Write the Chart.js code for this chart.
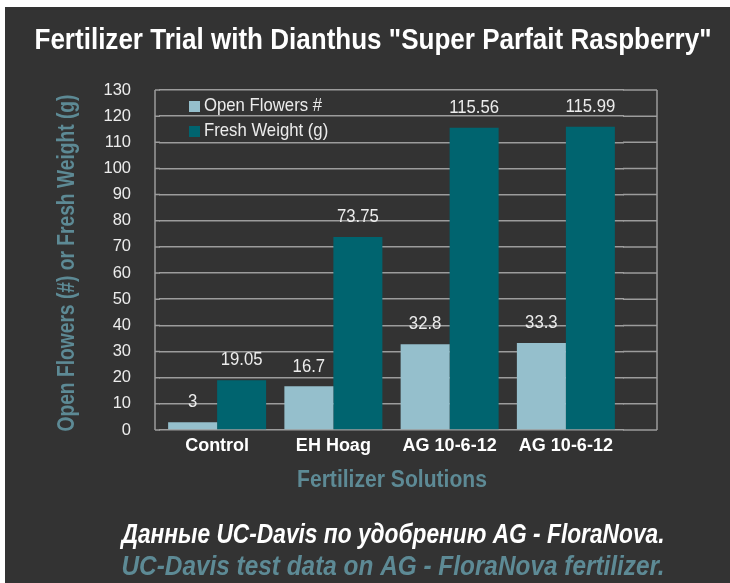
<!DOCTYPE html>
<html>
<head>
<meta charset="utf-8">
<script src="https://cdn.jsdelivr.net/npm/chart.js@4.4.1/dist/chart.umd.min.js"></script>
<style>
  html, body { margin: 0; padding: 0; background: #fff; }
</style>
</head>
<body>
<canvas id="barChart" width="730" height="583"></canvas>
<script>
// data
const categories = ['Control', 'EH Hoag', 'AG 10-6-12', 'AG 10-6-12'];
const openFlowers = [3, 16.7, 32.8, 33.3];
const freshWeight = [19.05, 73.75, 115.56, 115.99];
const seriesNames = ['Open Flowers #', 'Fresh Weight (g)'];
const yMax = 130;
const yStep = 10;

const BG = '#333333';
const GRID = '#9c9c9c';
const LIGHT = '#95bfcc';
const DARK = '#00646f';
const TEAL_TEXT = '#5d8a95';
const TXT = '#ececec';
const SANS = '"Liberation Sans", Arial, sans-serif';
const SQUEEZE = 0.88; // original uses a narrow face
// the frame is a little wider than the category band, like the original
const FRAME_LEFT = 155;
const FRAME_RIGHT = 657;

// draw a text squeezed/stretched to a given width
function fitText(ctx, text, cx, cy, width, font, color, angle) {
    ctx.save();
    ctx.font = font;
    ctx.fillStyle = color;
    ctx.textAlign = 'center';
    ctx.textBaseline = 'middle';
    const w = ctx.measureText(text).width;
    ctx.translate(cx, cy);
    if (angle) ctx.rotate(angle);
    ctx.scale(width / w, 1);
    ctx.fillText(text, 0, 0);
    ctx.restore();
}

// same, but with a fixed horizontal squeeze
function narrowText(ctx, text, x, y, align) {
    ctx.save();
    ctx.textAlign = align;
    ctx.textBaseline = 'middle';
    ctx.translate(x, y);
    ctx.scale(SQUEEZE, 1);
    ctx.fillText(text, 0, 0);
    ctx.restore();
}

const decor = {
    id: 'decor',
    beforeDraw(chart) {
        const ctx = chart.ctx;
        ctx.save();
        ctx.fillStyle = '#ffffff';
        ctx.fillRect(0, 0, chart.width, chart.height);
        ctx.fillStyle = BG;
        ctx.fillRect(5, 7, chart.width - 5, chart.height - 7);
        ctx.restore();
    },
    beforeDatasetsDraw(chart) {
        // stretch the grid out to the frame on both sides
        const ctx = chart.ctx;
        const a = chart.chartArea;
        const y = chart.scales.y;
        ctx.save();
        ctx.strokeStyle = GRID;
        ctx.lineWidth = 1.5;
        ctx.beginPath();
        y.ticks.forEach(t => {
            const py = y.getPixelForValue(t.value);
            ctx.moveTo(FRAME_LEFT, py);
            ctx.lineTo(a.left + 1, py);
            ctx.moveTo(a.right - 1, py);
            ctx.lineTo(FRAME_RIGHT, py);
        });
        ctx.moveTo(FRAME_LEFT, a.top);
        ctx.lineTo(FRAME_LEFT, a.bottom);
        ctx.moveTo(FRAME_RIGHT, a.top);
        ctx.lineTo(FRAME_RIGHT, a.bottom);
        ctx.stroke();
        ctx.restore();
    },
    afterDraw(chart) {
        const ctx = chart.ctx;

        // value labels
        ctx.save();
        ctx.font = '19px ' + SANS;
        ctx.fillStyle = TXT;
        chart.data.datasets.forEach((ds, i) => {
            chart.getDatasetMeta(i).data.forEach((bar, j) => {
                narrowText(ctx, String(ds.data[j]), bar.x, bar.y - 20, 'center');
            });
        });
        ctx.restore();

        // legend inside the plot
        ctx.save();
        ctx.font = '19px ' + SANS;
        chart.data.datasets.forEach((ds, i) => {
            const y = 106 + i * 25;
            ctx.fillStyle = ds.backgroundColor;
            ctx.fillRect(189, y - 5, 11, 11);
            ctx.fillStyle = TXT;
            narrowText(ctx, ds.label, 204, y, 'left');
        });
        ctx.restore();

        // titles
        fitText(ctx, 'Fertilizer Trial with Dianthus "Super Parfait Raspberry"', 373, 41, 677,
            'bold 29px ' + SANS, '#ffffff');
        fitText(ctx, 'Open Flowers (#) or Fresh Weight (g)', 68, 263, 337,
            'bold 23px ' + SANS, TEAL_TEXT, -Math.PI / 2);
        fitText(ctx, 'Fertilizer Solutions', 392, 481, 190,
            'bold 23px ' + SANS, TEAL_TEXT);
        fitText(ctx, 'Данные UC-Davis по удобрению AG - FloraNova.', 393, 536, 543,
            'italic bold 27px ' + SANS, '#ffffff');
        fitText(ctx, 'UC-Davis test data on AG - FloraNova fertilizer.', 393, 568, 543,
            'italic bold 27px ' + SANS, TEAL_TEXT);
    }
};

new Chart(document.getElementById('barChart'), {
    type: 'bar',
    data: {
        labels: categories,
        datasets: [
            { label: seriesNames[0], data: openFlowers, backgroundColor: LIGHT },
            { label: seriesNames[1], data: freshWeight, backgroundColor: DARK }
        ]
    },
    options: {
        responsive: false,
        animation: false,
        datasets: {
            bar: { categoryPercentage: 0.843, barPercentage: 1.0 }
        },
        layout: { padding: { top: 90, right: 106, left: 0, bottom: 0 } },
        plugins: {
            legend: { display: false },
            title: { display: false },
            tooltip: { enabled: false }
        },
        scales: {
            x: {
                grid: { display: false, drawTicks: false },
                border: { display: false },
                ticks: {
                    color: '#ffffff',
                    padding: 5,
                    autoSkip: false,
                    maxRotation: 0,
                    minRotation: 0,
                    font: { family: SANS, size: 18, weight: 'bold' }
                },
                afterFit: s => { s.height = 153; }
            },
            y: {
                min: 0,
                max: yMax,
                ticks: {
                    stepSize: yStep,
                    color: TXT,
                    padding: 28,
                    font: { family: SANS, size: 16.5 }
                },
                grid: { color: GRID, lineWidth: 1.5, drawTicks: false },
                border: { display: false },
                afterFit: s => { s.width = 159; }
            }
        }
    },
    plugins: [decor]
});
</script>
</body>
</html>
